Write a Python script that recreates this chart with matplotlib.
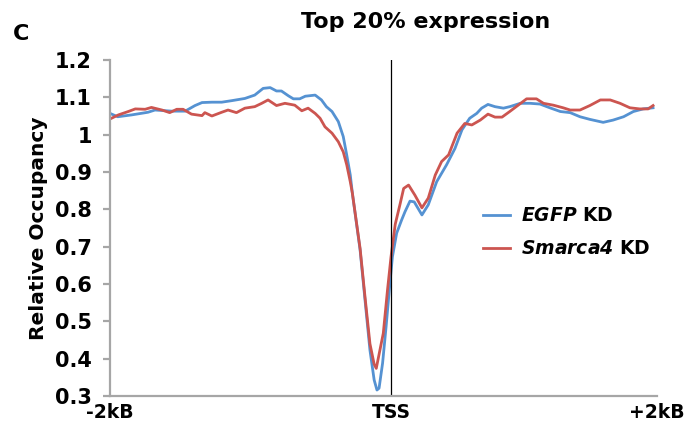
import numpy as np
import matplotlib
matplotlib.use('Agg')
import matplotlib.pyplot as plt

# bold italic gene names inside the legend labels
plt.rcParams['font.family'] = ['DejaVu Sans']
plt.rcParams['mathtext.fontset'] = 'custom'
plt.rcParams['mathtext.it'] = 'DejaVu Sans:italic:bold'
plt.rcParams['mathtext.rm'] = 'DejaVu Sans:italic:bold'

# position relative to TSS (bp) and relative nucleosome occupancy
egfp_pos = [-2000, -1945, -1845, -1730, -1680, -1560, -1465, -1395, -1345, -1275,
            -1205, -1135, -1040, -970, -910, -860, -815, -780, -730, -695,
            -650, -610, -540, -495, -460, -420, -375, -340, -315, -290,
            -275, -220, -185, -150, -120, -100, -85, -60, -35, -10,
            10, 40, 75, 100, 135, 165, 220, 265, 325, 395,
            455, 505, 560, 610, 645, 690, 740, 800, 845, 895,
            920, 990, 1060, 1130, 1205, 1275, 1345, 1415, 1510, 1580,
            1655, 1725, 1795, 1865]
egfp_occ = [1.057, 1.048, 1.053, 1.060, 1.066, 1.063, 1.063, 1.078, 1.086, 1.087,
            1.087, 1.091, 1.097, 1.106, 1.124, 1.126, 1.117, 1.117, 1.104, 1.096,
            1.096, 1.103, 1.106, 1.093, 1.075, 1.062, 1.035, 0.995, 0.945, 0.892,
            0.843, 0.691, 0.557, 0.423, 0.343, 0.316, 0.321, 0.388, 0.486, 0.593,
            0.673, 0.736, 0.771, 0.794, 0.822, 0.820, 0.785, 0.812, 0.874, 0.919,
            0.963, 1.013, 1.044, 1.057, 1.071, 1.081, 1.075, 1.071, 1.075, 1.081,
            1.084, 1.084, 1.082, 1.072, 1.062, 1.059, 1.048, 1.041, 1.033, 1.039,
            1.048, 1.062, 1.069, 1.072]

smarca4_pos = [-2000, -1940, -1870, -1820, -1750, -1705, -1630, -1575, -1525, -1480,
               -1420, -1345, -1325, -1275, -1205, -1160, -1100, -1040, -970, -920,
               -875, -815, -755, -685, -635, -590, -540, -505, -470, -420,
               -375, -340, -315, -290, -275, -220, -185, -150, -120, -105,
               -55, -25, 0, 30, 65, 90, 125, 170, 220, 265,
               315, 360, 410, 470, 525, 575, 635, 690, 740, 790,
               845, 905, 965, 1035, 1085, 1155, 1225, 1275, 1345, 1415,
               1490, 1560, 1630, 1700, 1770, 1830, 1865]
smarca4_occ = [1.042, 1.053, 1.062, 1.069, 1.068, 1.073, 1.066, 1.059, 1.068, 1.068,
               1.055, 1.051, 1.059, 1.050, 1.060, 1.066, 1.059, 1.071, 1.075, 1.084,
               1.093, 1.078, 1.084, 1.079, 1.064, 1.071, 1.057, 1.044, 1.021, 1.004,
               0.981, 0.954, 0.919, 0.874, 0.843, 0.695, 0.565, 0.440, 0.385, 0.374,
               0.468, 0.584, 0.673, 0.760, 0.815, 0.856, 0.865, 0.838, 0.804, 0.830,
               0.892, 0.928, 0.946, 1.004, 1.030, 1.026, 1.039, 1.055, 1.047, 1.047,
               1.062, 1.079, 1.096, 1.096, 1.084, 1.079, 1.072, 1.066, 1.066, 1.078,
               1.093, 1.093, 1.084, 1.072, 1.069, 1.069, 1.078]

x_ticks = [-2000, 0, 1893]
x_labels = ['-2kB', 'TSS', '+2kB']
y_ticks = [0.3, 0.4, 0.5, 0.6, 0.7, 0.8, 0.9, 1.0, 1.1, 1.2]
y_labels = ['0.3', '0.4', '0.5', '0.6', '0.7', '0.8', '0.9', '1', '1.1', '1.2']

fig = plt.figure(figsize=(6.87, 4.23), dpi=100)
ax = fig.add_axes([110 / 687, 27 / 423, 547 / 687, 336 / 423])

ax.plot(egfp_pos, egfp_occ, color='#5592D2', lw=2.0, label=r'$\mathit{EGFP}$ KD')
ax.plot(smarca4_pos, smarca4_occ, color='#CC5550', lw=2.0, label=r'$\mathit{Smarca4}$ KD')
ax.axvline(0, color='black', lw=0.9)

ax.set_xlim(x_ticks[0], x_ticks[-1])
ax.set_ylim(0.3, 1.2)
ax.set_xticks(x_ticks)
ax.set_xticklabels(x_labels, fontsize=13.5, fontweight='bold')
ax.set_yticks(y_ticks)
ax.set_yticklabels(y_labels, fontsize=15, fontweight='bold')

for side in ['top', 'right']:
    ax.spines[side].set_visible(False)
for side in ['left', 'bottom']:
    ax.spines[side].set_color('#A6A6A6')
    ax.spines[side].set_linewidth(1.6)
ax.tick_params(axis='y', color='#A6A6A6', width=1.6, length=5, pad=8)
ax.tick_params(axis='x', length=0, pad=5)

ax.set_ylabel('Relative Occupancy', fontsize=14.5, fontweight='bold')
ax.yaxis.set_label_coords(-0.113, 0.5)

leg = ax.legend(loc='upper left', bbox_to_anchor=(0.682, 0.565), frameon=False,
                fontsize=13.5, handlelength=1.45, handletextpad=0.55,
                labelspacing=0.75, borderpad=0, borderaxespad=0)
for t in leg.get_texts():
    t.set_fontweight('bold')

fig.text(426 / 687, 1 - 22 / 423, 'Top 20% expression', fontsize=16,
         fontweight='bold', ha='center', va='center')
fig.text(21 / 687, 1 - 34 / 423, 'C', fontsize=16, fontweight='bold',
         ha='center', va='center')

fig.savefig('out.png', dpi=100)
